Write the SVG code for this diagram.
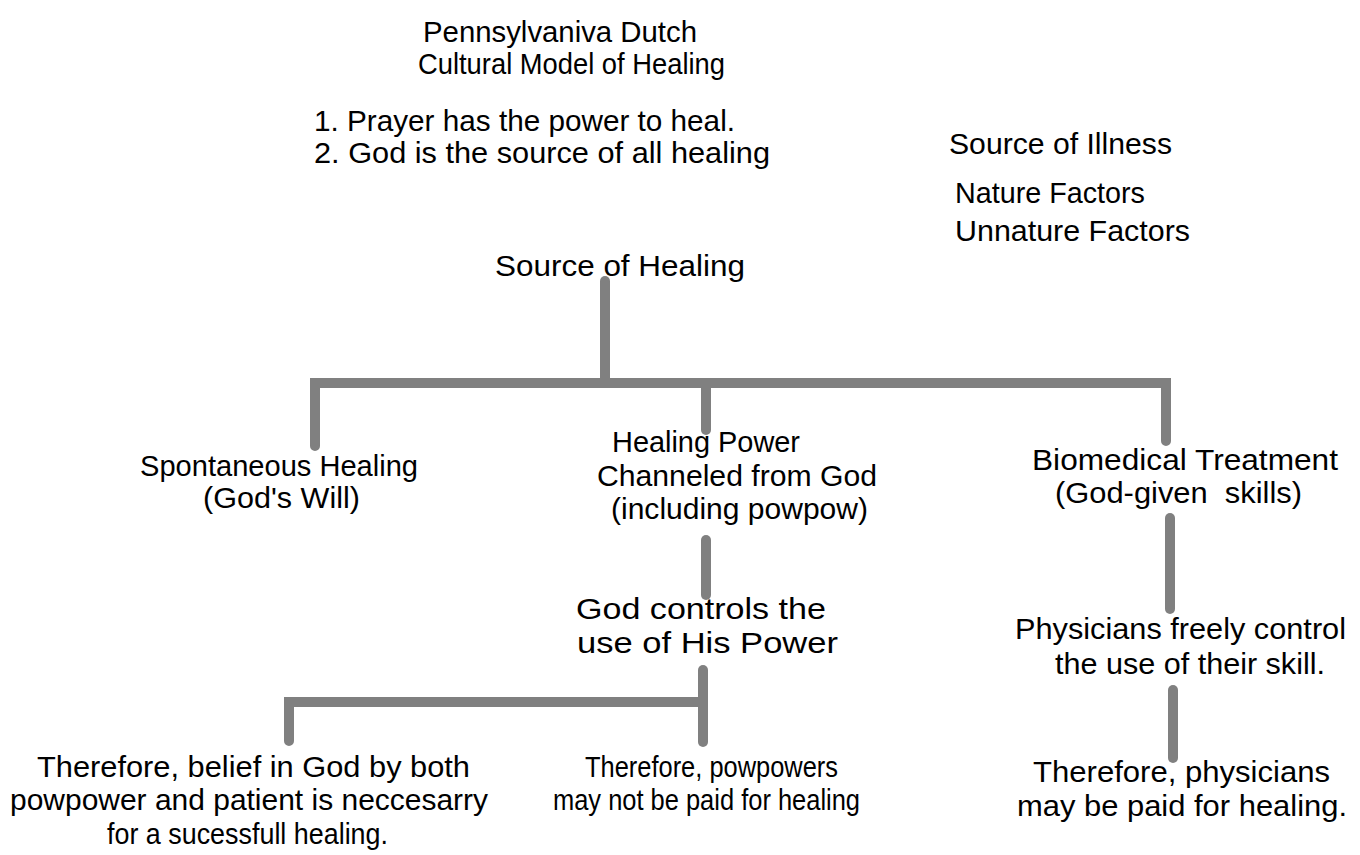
<svg xmlns="http://www.w3.org/2000/svg" width="1360" height="855" viewBox="0 0 1360 855">
<style>
text{font-family:"Liberation Sans",Arial,sans-serif;font-size:29px;fill:#000}
.ln{stroke:#808080;stroke-width:10;fill:none;stroke-linecap:round;stroke-linejoin:miter}
</style>
<rect width="1360" height="855" fill="#fff"/>
<g id="connectors">
<path class="ln" d="M605,281 V383"/>
<path class="ln" d="M315,446 V383 H1166 V441"/>
<path class="ln" d="M706,383 V430"/>
<path class="ln" d="M706,540 V595"/>
<path class="ln" d="M289,741 V702 H703"/>
<path class="ln" d="M703,670 V742"/>
<path class="ln" d="M1170,518 V609"/>
<path class="ln" d="M1173,690 V758"/>
</g>
<g id="title"><text x="423" y="42" textLength="274" lengthAdjust="spacingAndGlyphs">Pennsylvaniva Dutch</text><text x="418" y="74" textLength="307" lengthAdjust="spacingAndGlyphs">Cultural Model of Healing</text></g>
<g id="principles"><text x="314" y="131" textLength="421" lengthAdjust="spacingAndGlyphs">1. Prayer has the power to heal.</text><text x="314" y="163" textLength="456" lengthAdjust="spacingAndGlyphs">2. God is the source of all healing</text></g>
<g id="illness"><text x="949" y="154" textLength="223" lengthAdjust="spacingAndGlyphs">Source of Illness</text><text x="955" y="203" textLength="190" lengthAdjust="spacingAndGlyphs">Nature Factors</text><text x="955" y="241" textLength="235" lengthAdjust="spacingAndGlyphs">Unnature Factors</text></g>
<g id="source-healing"><text x="495" y="276" textLength="250" lengthAdjust="spacingAndGlyphs">Source of Healing</text></g>
<g id="spontaneous"><text x="140" y="476" textLength="278" lengthAdjust="spacingAndGlyphs">Spontaneous Healing</text><text x="203" y="508" textLength="157" lengthAdjust="spacingAndGlyphs">(God's Will)</text></g>
<g id="channeled"><text x="612" y="452" textLength="188" lengthAdjust="spacingAndGlyphs">Healing Power</text><text x="597" y="486" textLength="280" lengthAdjust="spacingAndGlyphs">Channeled from God</text><text x="611" y="519" textLength="257" lengthAdjust="spacingAndGlyphs">(including powpow)</text></g>
<g id="biomedical"><text x="1032" y="470" textLength="306" lengthAdjust="spacingAndGlyphs">Biomedical Treatment</text><text x="1055" y="503" textLength="247" lengthAdjust="spacingAndGlyphs" xml:space="preserve">(God-given  skills)</text></g>
<g id="god-controls"><text x="576" y="619" textLength="250" lengthAdjust="spacingAndGlyphs">God controls the</text><text x="577" y="653" textLength="261" lengthAdjust="spacingAndGlyphs">use of His Power</text></g>
<g id="physicians-control"><text x="1015" y="639" textLength="331" lengthAdjust="spacingAndGlyphs">Physicians freely control</text><text x="1055" y="674" textLength="270" lengthAdjust="spacingAndGlyphs">the use of their skill.</text></g>
<g id="belief"><text x="37" y="777" textLength="433" lengthAdjust="spacingAndGlyphs">Therefore, belief in God by both</text><text x="10" y="810" textLength="478" lengthAdjust="spacingAndGlyphs">powpower and patient is neccesarry</text><text x="107" y="844" textLength="281" lengthAdjust="spacingAndGlyphs">for a sucessfull healing.</text></g>
<g id="not-paid"><text x="585" y="777" textLength="253" lengthAdjust="spacingAndGlyphs">Therefore, powpowers</text><text x="553" y="810" textLength="307" lengthAdjust="spacingAndGlyphs">may not be paid for healing</text></g>
<g id="paid"><text x="1033" y="782" textLength="297" lengthAdjust="spacingAndGlyphs">Therefore, physicians</text><text x="1017" y="816" textLength="330" lengthAdjust="spacingAndGlyphs">may be paid for healing.</text></g>
</svg>
